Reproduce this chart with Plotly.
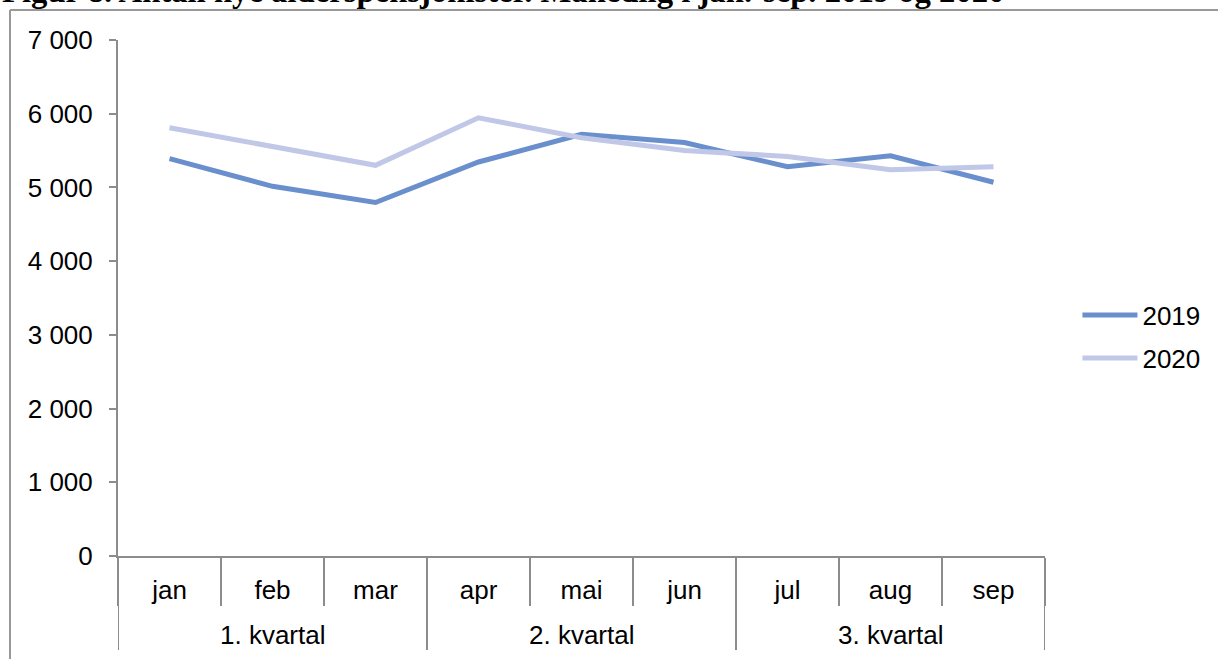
import plotly.graph_objects as go

months = ["jan", "feb", "mar", "apr", "mai", "jun", "jul", "aug", "sep"]
quarter_labels = ["1. kvartal", "2. kvartal", "3. kvartal"]
values_2019 = [5390, 5015, 4795, 5345, 5720, 5610, 5280, 5430, 5070]
values_2020 = [5810, 5560, 5300, 5945, 5675, 5500, 5420, 5240, 5280]
y_ticks = [0, 1000, 2000, 3000, 4000, 5000, 6000, 7000]
y_labels = ["0", "1 000", "2 000", "3 000", "4 000", "5 000", "6 000", "7 000"]
title_text = "Figur 8. Antall nye alderspensjonister. Månedlig i jan.-sep. 2019 og 2020"

AX = "#8c8c8c"
FONT = "Liberation Sans, Arial"
FS = 26

fig = go.Figure()
fig.add_trace(go.Scatter(x=months, y=values_2019, name="2019", mode="lines", legendgroup="a",
                         line=dict(color="#6A8FCD", width=5)))
fig.add_trace(go.Scatter(x=months, y=values_2020, name="2020", mode="lines", legendgroup="b",
                         line=dict(color="#C0C7E7", width=5)))

fig.update_layout(
    width=1218, height=659,
    margin=dict(l=118, r=173, t=40, b=103),
    paper_bgcolor="white", plot_bgcolor="white",
    font=dict(family=FONT, size=FS, color="black"),
    showlegend=True,
    legend=dict(x=1.035, y=0.425, xanchor="left", yanchor="middle", traceorder="grouped",
                font=dict(size=FS), itemwidth=55, tracegroupgap=6),
    xaxis=dict(type="category", range=[-0.5, 8.5], showline=True, linecolor=AX, linewidth=2,
               ticks="outside", tickson="boundaries", ticklen=48, tickcolor=AX, tickwidth=2,
               showgrid=False, tickfont=dict(size=FS), ticklabelstandoff=10, automargin=False),
    yaxis=dict(range=[0, 7000], tickvals=y_ticks, ticktext=y_labels, showline=True,
               linecolor=AX, linewidth=2, ticks="outside", ticklen=7,
               tickcolor=AX, tickwidth=2, showgrid=False, zeroline=False,
               tickfont=dict(size=FS), ticklabelstandoff=11, automargin=False),
)

# quarter group labels and dividers
for i, q in enumerate(quarter_labels):
    fig.add_annotation(text=q, xref="x", yref="paper", x=months[3 * i + 1], y=-0.153,
                       showarrow=False, xanchor="center", yanchor="middle",
                       font=dict(family=FONT, size=FS, color="black"))
for b in [-0.5, 2.5, 5.5, 8.5]:
    fig.add_shape(type="line", xref="x", yref="paper", x0=b, x1=b, y0=0, y1=-0.182,
                  line=dict(color=AX, width=2))

fig.add_annotation(text="<b>" + title_text + "</b>", xref="paper", yref="paper",
                   x=-0.1273, y=1.057, xanchor="left", yanchor="bottom", showarrow=False,
                   font=dict(family="Liberation Serif, Times New Roman", size=32.7, color="black"))
# outer frame (top and left edges)
fig.add_shape(type="line", xref="paper", yref="paper", x0=-0.1165, x1=1.2, y0=1.058, y1=1.058,
              line=dict(color="#999999", width=2))
fig.add_shape(type="line", xref="paper", yref="paper", x0=-0.1165, x1=-0.1165, y0=1.058, y1=-0.3,
              line=dict(color="#999999", width=2))

fig.write_html("out.html", config={"displayModeBar": False},
               post_script="document.body.style.margin='0';")
